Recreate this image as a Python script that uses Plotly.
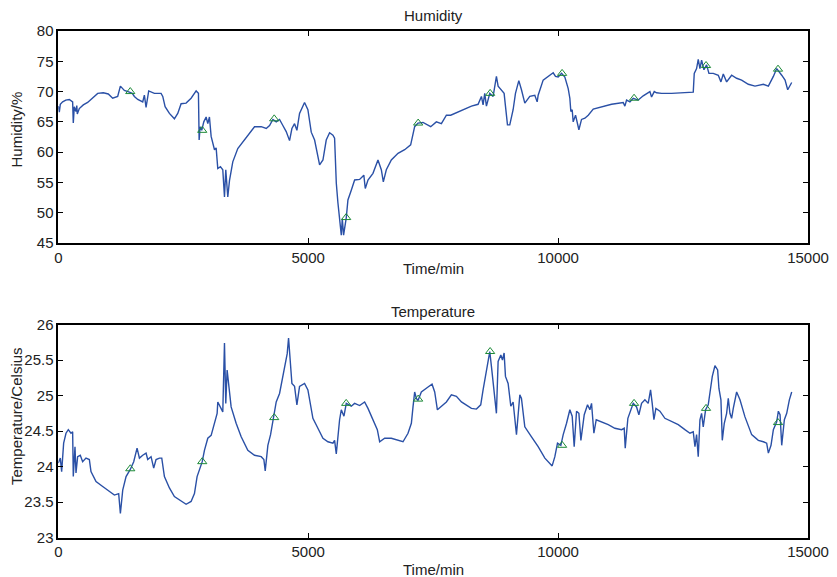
import plotly.graph_objects as go

# ---- Humidity record (minutes, %RH) ----
hum_time = [
    0, 20, 40, 87, 150, 220, 287, 300, 320, 354,
    370, 380, 420, 500, 587, 700, 788, 900, 1000, 1088,
    1188, 1242, 1322, 1422, 1480, 1522, 1590, 1689, 1722, 1756,
    1809, 1922, 2056, 2090, 2137, 2223, 2323, 2390, 2457, 2557,
    2657, 2758, 2804, 2818, 2838, 2870, 2911, 2958, 2991, 3024,
    3058, 3125, 3158, 3191, 3244, 3291, 3325, 3351, 3391, 3425,
    3491, 3591, 3725, 3859, 3926, 4060, 4160, 4227, 4293, 4360,
    4427, 4493, 4560, 4627, 4674, 4727, 4774, 4827, 4927, 4994,
    5061, 5128, 5228, 5295, 5361, 5428, 5495, 5528, 5562, 5595,
    5628, 5662, 5682, 5708, 5762, 5795, 5862, 5929, 6029, 6113,
    6142, 6196, 6296, 6396, 6463, 6503, 6563, 6663, 6797, 6930,
    7050, 7097, 7130, 7197, 7297, 7451, 7564, 7665, 7765, 7851,
    7932, 8032, 8132, 8266, 8399, 8466, 8499, 8532, 8566, 8633,
    8700, 8766, 8800, 8866, 8920, 8947, 8987, 9033, 9100, 9147,
    9214, 9267, 9334, 9434, 9534, 9581, 9601, 9701, 9835, 9902,
    9948, 10002, 10069, 10135, 10202, 10235, 10255, 10282, 10302, 10349,
    10416, 10469, 10536, 10603, 10703, 10870, 11070, 11303, 11336, 11370,
    11437, 11503, 11603, 11703, 11770, 11837, 11870, 11924, 11970, 12070,
    12270, 12471, 12704, 12724, 12771, 12804, 12838, 12871, 12918, 12971,
    13018, 13104, 13205, 13258, 13305, 13372, 13472, 13572, 13672, 13806,
    13940, 14107, 14207, 14307, 14374, 14474, 14541, 14594, 14641, 14674,
]
hum_value = [
    67.6, 66.6, 67.9, 68.3, 68.6, 68.7, 68.3, 64.8, 67.5, 66.7,
    67.7, 66.3, 67.2, 67.8, 68.2, 69.0, 69.7, 69.8, 69.6, 68.9,
    69.2, 70.9, 70.2, 69.9, 69.7, 69.2, 68.7, 68.3, 69.4, 67.4,
    70.1, 69.7, 69.7, 69.2, 67.5, 66.4, 65.5, 66.4, 68.0, 68.1,
    68.9, 70.1, 69.7, 62.0, 64.2, 63.6, 65.0, 65.8, 64.7, 65.8,
    62.6, 60.4, 60.7, 57.3, 57.6, 57.1, 52.6, 57.1, 52.6, 55.3,
    58.4, 60.6, 62.0, 63.4, 64.2, 64.2, 63.9, 64.4, 65.4, 65.0,
    65.4, 64.4, 63.4, 61.9, 63.9, 64.7, 63.6, 66.4, 68.2, 67.0,
    63.3, 62.0, 57.9, 58.7, 62.0, 63.2, 62.8, 62.3, 54.9, 51.6,
    48.3, 46.3, 49.0, 46.3, 49.2, 52.1, 53.7, 55.4, 55.5, 56.2,
    54.0, 55.4, 56.5, 58.7, 57.1, 55.1, 57.1, 58.7, 59.8, 60.4,
    61.2, 62.8, 64.2, 64.8, 64.9, 64.2, 65.0, 64.7, 66.1, 66.1,
    66.4, 66.7, 67.2, 67.6, 67.9, 69.2, 67.8, 69.7, 67.6, 69.7,
    69.2, 72.5, 70.9, 70.3, 69.7, 67.6, 64.5, 64.5, 67.0, 69.7,
    71.8, 70.3, 68.1, 69.2, 69.4, 68.3, 69.4, 71.9, 72.7, 73.1,
    72.5, 72.4, 73.0, 72.4, 70.5, 68.9, 66.7, 67.0, 65.0, 66.1,
    63.7, 65.4, 65.6, 66.1, 67.1, 67.5, 67.9, 68.2, 67.6, 68.6,
    68.3, 68.9, 68.6, 69.3, 69.7, 70.0, 69.1, 70.0, 69.8, 69.7,
    69.7, 69.8, 69.9, 73.0, 73.8, 75.3, 73.8, 75.2, 73.6, 74.4,
    73.0, 73.0, 72.7, 71.6, 72.9, 71.6, 72.7, 72.2, 71.9, 71.2,
    70.9, 71.2, 70.9, 72.5, 73.8, 72.7, 71.9, 70.3, 71.1, 71.5,
]

# ---- Temperature record (minutes, Celsius) ----
temp_time = [
    0, 40, 67, 107, 154, 200, 254, 287, 300, 334,
    354, 387, 440, 487, 554, 621, 654, 755, 888, 1022,
    1122, 1208, 1242, 1289, 1356, 1440, 1509, 1576, 1623, 1689,
    1756, 1789, 1856, 1909, 1956, 2023, 2070, 2123, 2223, 2323,
    2457, 2557, 2657, 2724, 2777, 2844, 2880, 2924, 2991, 3058,
    3111, 3178, 3191, 3245, 3291, 3325, 3351, 3378, 3405, 3458,
    3558, 3659, 3792, 3926, 4060, 4113, 4140, 4193, 4247, 4306,
    4360, 4427, 4493, 4540, 4580, 4607, 4634, 4674, 4727, 4774,
    4827, 4927, 4994, 5094, 5194, 5295, 5395, 5495, 5528, 5562,
    5628, 5662, 5715, 5762, 5862, 5929, 6029, 6129, 6196, 6296,
    6383, 6430, 6530, 6663, 6797, 6897, 6997, 7064, 7097, 7130,
    7164, 7197, 7264, 7331, 7398, 7478, 7531, 7585, 7665, 7765,
    7865, 7965, 8066, 8166, 8266, 8366, 8452, 8499, 8546, 8586,
    8633, 8666, 8720, 8766, 8800, 8854, 8887, 8920, 8947, 9000,
    9054, 9100, 9167, 9234, 9267, 9334, 9468, 9601, 9735, 9835,
    9881, 9935, 9988, 10055, 10102, 10169, 10235, 10282, 10322, 10369,
    10416, 10456, 10523, 10589, 10636, 10669, 10716, 10763, 10870, 11003,
    11136, 11270, 11323, 11343, 11396, 11436, 11503, 11570, 11616, 11670,
    11737, 11803, 11850, 11883, 11917, 11957, 12037, 12137, 12271, 12404,
    12537, 12638, 12704, 12738, 12771, 12804, 12838, 12871, 12904, 12951,
    13004, 13038, 13085, 13138, 13192, 13218, 13258, 13285, 13325, 13372,
    13405, 13438, 13472, 13505, 13572, 13639, 13739, 13873, 14006, 14107,
    14173, 14207, 14260, 14307, 14374, 14407, 14441, 14474, 14527, 14574,
    14594, 14627, 14674,
]
temp_value = [
    24.05, 24.12, 23.93, 24.33, 24.47, 24.52, 24.47, 24.49, 23.86, 24.28,
    23.91, 24.14, 24.16, 24.07, 24.12, 24.10, 23.93, 23.79, 23.72, 23.65,
    23.60, 23.62, 23.34, 23.67, 23.86, 23.96, 24.07, 24.26, 24.12, 24.16,
    24.19, 24.10, 24.14, 23.98, 24.10, 24.12, 24.12, 23.86, 23.70, 23.58,
    23.51, 23.47, 23.51, 23.62, 23.86, 24.00, 24.07, 24.23, 24.40, 24.44,
    24.59, 24.75, 24.91, 24.82, 24.77, 25.74, 24.89, 25.36, 25.21, 24.84,
    24.61, 24.42, 24.23, 24.16, 24.14, 24.10, 23.94, 24.30, 24.45, 24.69,
    24.91, 25.03, 25.27, 25.43, 25.59, 25.81, 25.59, 25.17, 25.13, 24.87,
    25.13, 25.17, 25.08, 24.68, 24.54, 24.40, 24.35, 24.33, 24.37, 24.18,
    24.66, 24.80, 24.71, 24.89, 24.85, 24.89, 24.86, 24.91, 24.82, 24.66,
    24.52, 24.35, 24.40, 24.40, 24.37, 24.35, 24.47, 24.61, 24.84, 25.05,
    24.96, 24.93, 25.05, 25.08, 25.12, 25.16, 25.05, 24.80, 24.85, 24.91,
    25.01, 24.99, 24.91, 24.87, 24.82, 24.81, 24.87, 25.08, 25.27, 25.38,
    25.62, 25.41, 25.08, 24.75, 25.48, 25.57, 25.50, 25.60, 25.27, 25.17,
    24.85, 24.91, 24.45, 25.01, 24.96, 24.56, 24.42, 24.28, 24.12, 24.05,
    24.01, 24.14, 24.33, 24.30, 24.45, 24.61, 24.80, 24.71, 24.28, 24.78,
    24.75, 24.37, 24.73, 24.87, 24.80, 24.89, 24.47, 24.66, 24.63, 24.59,
    24.54, 24.52, 24.54, 24.26, 24.68, 24.75, 24.89, 24.84, 24.73, 24.89,
    24.94, 24.89, 25.08, 24.89, 24.66, 24.82, 24.78, 24.68, 24.64, 24.59,
    24.52, 24.47, 24.49, 24.28, 24.45, 24.14, 24.66, 24.75, 24.56, 24.80,
    24.87, 25.03, 25.27, 25.42, 25.36, 25.10, 24.94, 24.37, 24.61, 24.75,
    24.96, 24.75, 24.68, 24.82, 25.05, 24.94, 24.70, 24.45, 24.37, 24.35,
    24.33, 24.19, 24.30, 24.52, 24.63, 24.78, 24.73, 24.30, 24.66, 24.75,
    24.85, 24.94, 25.05,
]

# ---- Daily sampling marks (every 1440 min) ----
day_marks = [1440, 2880, 4320, 5760, 7200, 8640, 10080, 11520, 12960, 14400]
hum_marks = [70.0, 63.6, 65.5, 49.2, 64.8, 69.7, 73.0, 68.9, 74.3, 73.7]
temp_marks = [23.97, 24.07, 24.69, 24.89, 24.95, 25.62, 24.30, 24.89, 24.82, 24.62]

x_ticks = [0, 5000, 10000, 15000]
x_tick_text = ["0", "5000", "10000", "15000"]
hum_ticks = [45, 50, 55, 60, 65, 70, 75, 80]
temp_ticks = [23, 23.5, 24, 24.5, 25, 25.5, 26]
temp_tick_text = ["23", "23.5", "24", "24.5", "25", "25.5", "26"]

assert len(hum_time) == len(hum_value)
assert len(temp_time) == len(temp_value)

W, H = 837, 577
LINE = "#2a50a6"
MARK = "#1d8a38"
TXT = "#222222"
FONT = "Liberation Sans, Arial, sans-serif"

fig = go.Figure()
fig.add_trace(go.Scatter(x=hum_time, y=hum_value, mode="lines",
                         line=dict(color=LINE, width=1.4), xaxis="x", yaxis="y"))
fig.add_trace(go.Scatter(x=day_marks, y=hum_marks, mode="markers",
                         marker=dict(symbol="triangle-up-open", size=8,
                                     color=MARK, line=dict(width=1, color=MARK)),
                         xaxis="x", yaxis="y"))
fig.add_trace(go.Scatter(x=temp_time, y=temp_value, mode="lines",
                         line=dict(color=LINE, width=1.4), xaxis="x2", yaxis="y2"))
fig.add_trace(go.Scatter(x=day_marks, y=temp_marks, mode="markers",
                         marker=dict(symbol="triangle-up-open", size=8,
                                     color=MARK, line=dict(width=1, color=MARK)),
                         xaxis="x2", yaxis="y2"))

x_dom = [58.3 / W, 808 / W]
top_dom = [1 - 243 / H, 1 - 31 / H]
bot_dom = [1 - 537.7 / H, 1 - 324.5 / H]

axis_common = dict(showline=True, linecolor="black", linewidth=1.5, mirror="ticks",
                   ticks="inside", ticklen=5, tickwidth=1, tickcolor="black",
                   showgrid=False, zeroline=False, automargin=False,
                   tickfont=dict(family=FONT, size=15, color=TXT))

fig.update_layout(
    width=W, height=H,
    margin=dict(l=0, r=0, t=0, b=0),
    paper_bgcolor="white", plot_bgcolor="white",
    showlegend=False,
    xaxis=dict(domain=x_dom, anchor="y", range=[0, 15000], tickvals=x_ticks,
               ticktext=x_tick_text, **axis_common),
    yaxis=dict(domain=top_dom, anchor="x", range=[45, 80], tickvals=hum_ticks, **axis_common),
    xaxis2=dict(domain=x_dom, anchor="y2", range=[0, 15000], tickvals=x_ticks,
                ticktext=x_tick_text, **axis_common),
    yaxis2=dict(domain=bot_dom, anchor="x2", range=[23, 26], tickvals=temp_ticks,
                ticktext=temp_tick_text, **axis_common),
)


def label(text, px, py, angle=0):
    fig.add_annotation(text=text, x=px / W, y=1 - py / H, xref="paper", yref="paper",
                       xanchor="center", yanchor="middle", showarrow=False,
                       textangle=angle, font=dict(family=FONT, size=15, color=TXT))


mid_x = (58.3 + 808) / 2
label("Humidity", mid_x, 16)
label("Time/min", mid_x, 268)
label("Humidity/%", 15.5, 130, -90)
label("Temperature", mid_x, 311)
label("Time/min", mid_x, 569)
label("Temperature/Celsius", 16, 416, -90)

fig.write_html("out.html")
